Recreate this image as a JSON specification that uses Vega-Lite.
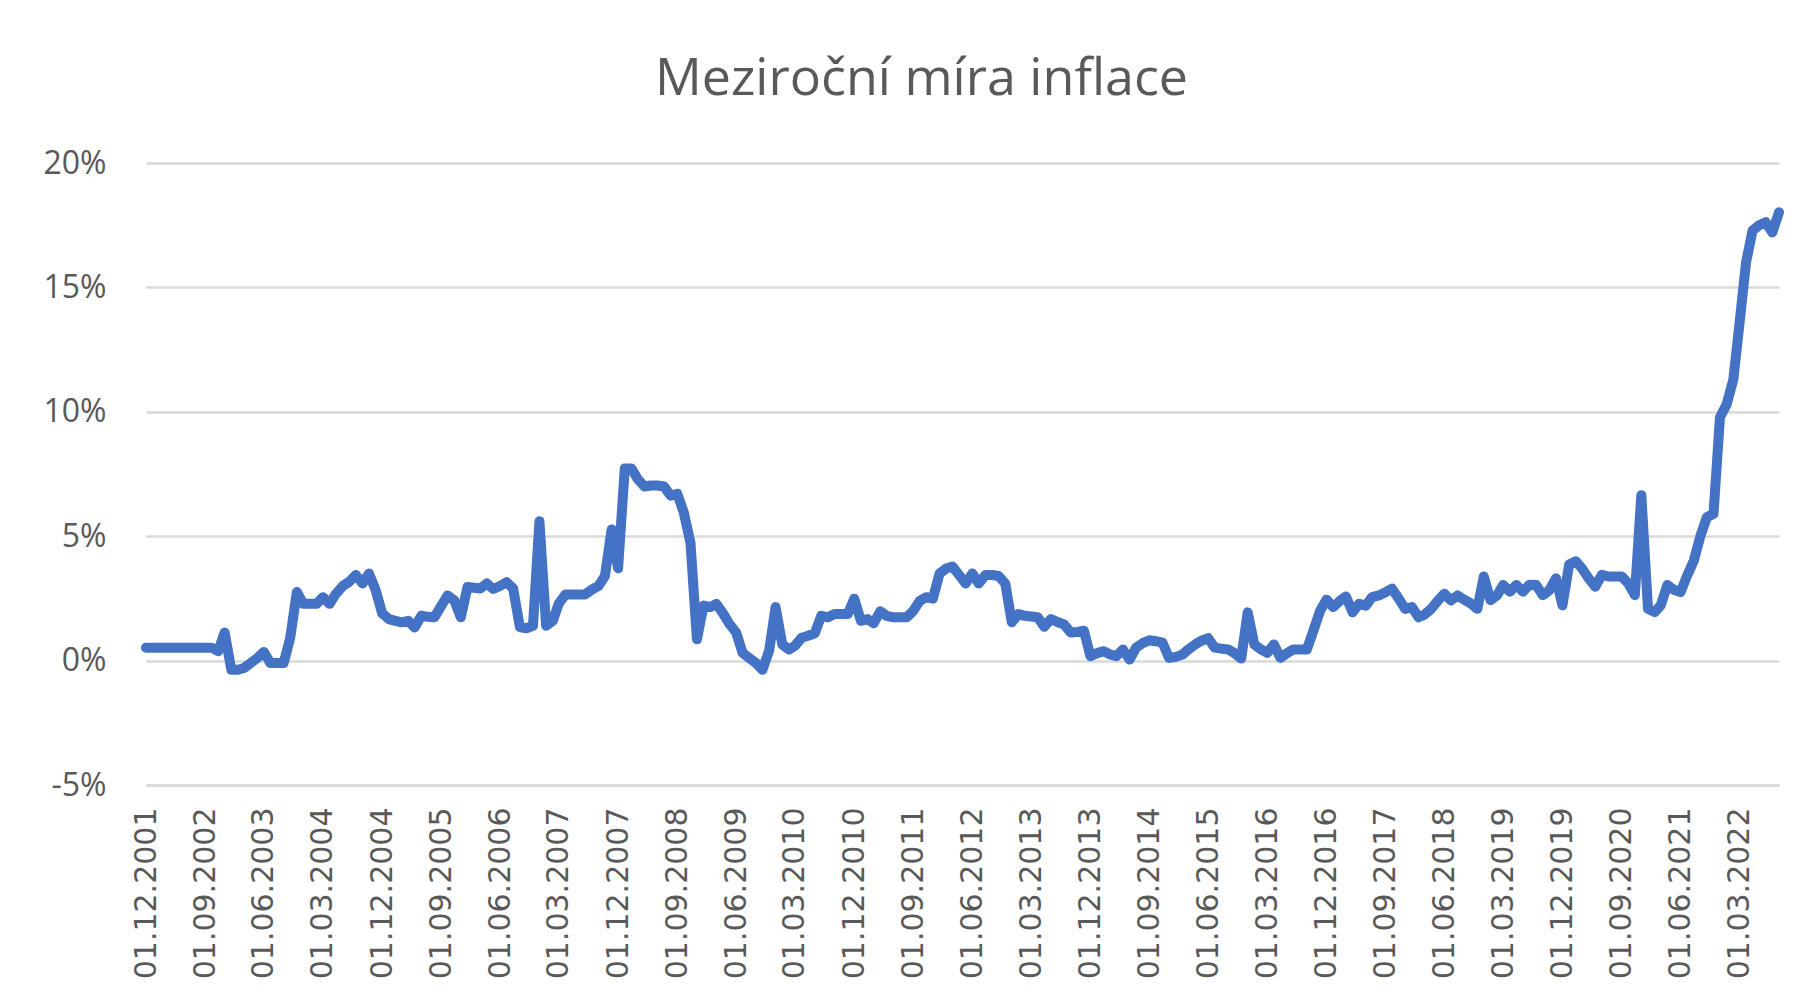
{
  "$schema": "https://vega.github.io/schema/vega-lite/v6.json",
  "width": 1633,
  "height": 622,
  "autosize": "none",
  "padding": {"left": 146, "top": 163, "right": 29, "bottom": 222},
  "background": "white",
  "title": {
    "text": "Meziroční míra inflace",
    "font": "Open Sans",
    "fontSize": 52,
    "fontWeight": "normal",
    "color": "#595959",
    "anchor": "middle",
    "frame": "group",
    "baseline": "alphabetic",
    "offset": 60,
    "dx": -41,
    "dy": 60
  },
  "data": {
    "format": {"parse": {"date": "date:'%Y-%m'"}},
    "values": [
      {"date": "2001-12", "v": 0.52},
      {"date": "2002-01", "v": 0.52}, {"date": "2002-02", "v": 0.52}, {"date": "2002-03", "v": 0.52}, {"date": "2002-04", "v": 0.52}, {"date": "2002-05", "v": 0.52}, {"date": "2002-06", "v": 0.52}, {"date": "2002-07", "v": 0.52}, {"date": "2002-08", "v": 0.52}, {"date": "2002-09", "v": 0.52}, {"date": "2002-10", "v": 0.52}, {"date": "2002-11", "v": 0.38}, {"date": "2002-12", "v": 1.13},
      {"date": "2003-01", "v": -0.37}, {"date": "2003-02", "v": -0.37}, {"date": "2003-03", "v": -0.3}, {"date": "2003-04", "v": -0.1}, {"date": "2003-05", "v": 0.1}, {"date": "2003-06", "v": 0.35}, {"date": "2003-07", "v": -0.1}, {"date": "2003-08", "v": -0.1}, {"date": "2003-09", "v": -0.1}, {"date": "2003-10", "v": 0.9}, {"date": "2003-11", "v": 2.76}, {"date": "2003-12", "v": 2.28},
      {"date": "2004-01", "v": 2.28}, {"date": "2004-02", "v": 2.28}, {"date": "2004-03", "v": 2.55}, {"date": "2004-04", "v": 2.28}, {"date": "2004-05", "v": 2.69}, {"date": "2004-06", "v": 3.0}, {"date": "2004-07", "v": 3.17}, {"date": "2004-08", "v": 3.44}, {"date": "2004-09", "v": 3.1}, {"date": "2004-10", "v": 3.5}, {"date": "2004-11", "v": 2.83}, {"date": "2004-12", "v": 1.9},
      {"date": "2005-01", "v": 1.67}, {"date": "2005-02", "v": 1.6}, {"date": "2005-03", "v": 1.54}, {"date": "2005-04", "v": 1.6}, {"date": "2005-05", "v": 1.33}, {"date": "2005-06", "v": 1.81}, {"date": "2005-07", "v": 1.76}, {"date": "2005-08", "v": 1.74}, {"date": "2005-09", "v": 2.2}, {"date": "2005-10", "v": 2.62}, {"date": "2005-11", "v": 2.42}, {"date": "2005-12", "v": 1.74},
      {"date": "2006-01", "v": 2.96}, {"date": "2006-02", "v": 2.93}, {"date": "2006-03", "v": 2.9}, {"date": "2006-04", "v": 3.1}, {"date": "2006-05", "v": 2.88}, {"date": "2006-06", "v": 3.0}, {"date": "2006-07", "v": 3.15}, {"date": "2006-08", "v": 2.9}, {"date": "2006-09", "v": 1.35}, {"date": "2006-10", "v": 1.3}, {"date": "2006-11", "v": 1.4}, {"date": "2006-12", "v": 5.6},
      {"date": "2007-01", "v": 1.4}, {"date": "2007-02", "v": 1.6}, {"date": "2007-03", "v": 2.3}, {"date": "2007-04", "v": 2.66}, {"date": "2007-05", "v": 2.66}, {"date": "2007-06", "v": 2.66}, {"date": "2007-07", "v": 2.66}, {"date": "2007-08", "v": 2.85}, {"date": "2007-09", "v": 3.0}, {"date": "2007-10", "v": 3.4}, {"date": "2007-11", "v": 5.27}, {"date": "2007-12", "v": 3.71},
      {"date": "2008-01", "v": 7.72}, {"date": "2008-02", "v": 7.72}, {"date": "2008-03", "v": 7.3}, {"date": "2008-04", "v": 7.0}, {"date": "2008-05", "v": 7.04}, {"date": "2008-06", "v": 7.04}, {"date": "2008-07", "v": 7.0}, {"date": "2008-08", "v": 6.63}, {"date": "2008-09", "v": 6.7}, {"date": "2008-10", "v": 5.95}, {"date": "2008-11", "v": 4.73}, {"date": "2008-12", "v": 0.86},
      {"date": "2009-01", "v": 2.21}, {"date": "2009-02", "v": 2.15}, {"date": "2009-03", "v": 2.28}, {"date": "2009-04", "v": 1.9}, {"date": "2009-05", "v": 1.47}, {"date": "2009-06", "v": 1.13}, {"date": "2009-07", "v": 0.31}, {"date": "2009-08", "v": 0.1}, {"date": "2009-09", "v": -0.1}, {"date": "2009-10", "v": -0.37}, {"date": "2009-11", "v": 0.4}, {"date": "2009-12", "v": 2.15},
      {"date": "2010-01", "v": 0.65}, {"date": "2010-02", "v": 0.45}, {"date": "2010-03", "v": 0.6}, {"date": "2010-04", "v": 0.92}, {"date": "2010-05", "v": 1.0}, {"date": "2010-06", "v": 1.1}, {"date": "2010-07", "v": 1.8}, {"date": "2010-08", "v": 1.74}, {"date": "2010-09", "v": 1.87}, {"date": "2010-10", "v": 1.87}, {"date": "2010-11", "v": 1.87}, {"date": "2010-12", "v": 2.49},
      {"date": "2011-01", "v": 1.6}, {"date": "2011-02", "v": 1.67}, {"date": "2011-03", "v": 1.5}, {"date": "2011-04", "v": 1.98}, {"date": "2011-05", "v": 1.8}, {"date": "2011-06", "v": 1.74}, {"date": "2011-07", "v": 1.74}, {"date": "2011-08", "v": 1.74}, {"date": "2011-09", "v": 2.0}, {"date": "2011-10", "v": 2.4}, {"date": "2011-11", "v": 2.55}, {"date": "2011-12", "v": 2.49},
      {"date": "2012-01", "v": 3.5}, {"date": "2012-02", "v": 3.7}, {"date": "2012-03", "v": 3.78}, {"date": "2012-04", "v": 3.44}, {"date": "2012-05", "v": 3.1}, {"date": "2012-06", "v": 3.5}, {"date": "2012-07", "v": 3.1}, {"date": "2012-08", "v": 3.44}, {"date": "2012-09", "v": 3.44}, {"date": "2012-10", "v": 3.4}, {"date": "2012-11", "v": 3.1}, {"date": "2012-12", "v": 1.54},
      {"date": "2013-01", "v": 1.87}, {"date": "2013-02", "v": 1.8}, {"date": "2013-03", "v": 1.77}, {"date": "2013-04", "v": 1.74}, {"date": "2013-05", "v": 1.36}, {"date": "2013-06", "v": 1.67}, {"date": "2013-07", "v": 1.55}, {"date": "2013-08", "v": 1.45}, {"date": "2013-09", "v": 1.13}, {"date": "2013-10", "v": 1.15}, {"date": "2013-11", "v": 1.2}, {"date": "2013-12", "v": 0.18},
      {"date": "2014-01", "v": 0.3}, {"date": "2014-02", "v": 0.38}, {"date": "2014-03", "v": 0.25}, {"date": "2014-04", "v": 0.18}, {"date": "2014-05", "v": 0.45}, {"date": "2014-06", "v": 0.04}, {"date": "2014-07", "v": 0.52}, {"date": "2014-08", "v": 0.7}, {"date": "2014-09", "v": 0.82}, {"date": "2014-10", "v": 0.78}, {"date": "2014-11", "v": 0.72}, {"date": "2014-12", "v": 0.11},
      {"date": "2015-01", "v": 0.15}, {"date": "2015-02", "v": 0.24}, {"date": "2015-03", "v": 0.45}, {"date": "2015-04", "v": 0.65}, {"date": "2015-05", "v": 0.8}, {"date": "2015-06", "v": 0.9}, {"date": "2015-07", "v": 0.52}, {"date": "2015-08", "v": 0.48}, {"date": "2015-09", "v": 0.45}, {"date": "2015-10", "v": 0.3}, {"date": "2015-11", "v": 0.08}, {"date": "2015-12", "v": 1.94},
      {"date": "2016-01", "v": 0.65}, {"date": "2016-02", "v": 0.45}, {"date": "2016-03", "v": 0.31}, {"date": "2016-04", "v": 0.65}, {"date": "2016-05", "v": 0.11}, {"date": "2016-06", "v": 0.3}, {"date": "2016-07", "v": 0.45}, {"date": "2016-08", "v": 0.45}, {"date": "2016-09", "v": 0.45}, {"date": "2016-10", "v": 1.2}, {"date": "2016-11", "v": 2.0}, {"date": "2016-12", "v": 2.45},
      {"date": "2017-01", "v": 2.15}, {"date": "2017-02", "v": 2.4}, {"date": "2017-03", "v": 2.58}, {"date": "2017-04", "v": 1.94}, {"date": "2017-05", "v": 2.28}, {"date": "2017-06", "v": 2.21}, {"date": "2017-07", "v": 2.55}, {"date": "2017-08", "v": 2.62}, {"date": "2017-09", "v": 2.75}, {"date": "2017-10", "v": 2.89}, {"date": "2017-11", "v": 2.49}, {"date": "2017-12", "v": 2.08},
      {"date": "2018-01", "v": 2.15}, {"date": "2018-02", "v": 1.74}, {"date": "2018-03", "v": 1.85}, {"date": "2018-04", "v": 2.08}, {"date": "2018-05", "v": 2.4}, {"date": "2018-06", "v": 2.69}, {"date": "2018-07", "v": 2.42}, {"date": "2018-08", "v": 2.62}, {"date": "2018-09", "v": 2.45}, {"date": "2018-10", "v": 2.3}, {"date": "2018-11", "v": 2.08}, {"date": "2018-12", "v": 3.38},
      {"date": "2019-01", "v": 2.43}, {"date": "2019-02", "v": 2.63}, {"date": "2019-03", "v": 3.04}, {"date": "2019-04", "v": 2.77}, {"date": "2019-05", "v": 3.04}, {"date": "2019-06", "v": 2.77}, {"date": "2019-07", "v": 3.05}, {"date": "2019-08", "v": 3.04}, {"date": "2019-09", "v": 2.63}, {"date": "2019-10", "v": 2.83}, {"date": "2019-11", "v": 3.31}, {"date": "2019-12", "v": 2.22},
      {"date": "2020-01", "v": 3.86}, {"date": "2020-02", "v": 3.99}, {"date": "2020-03", "v": 3.7}, {"date": "2020-04", "v": 3.3}, {"date": "2020-05", "v": 2.97}, {"date": "2020-06", "v": 3.45}, {"date": "2020-07", "v": 3.38}, {"date": "2020-08", "v": 3.38}, {"date": "2020-09", "v": 3.38}, {"date": "2020-10", "v": 3.11}, {"date": "2020-11", "v": 2.63}, {"date": "2020-12", "v": 6.65},
      {"date": "2021-01", "v": 2.08}, {"date": "2021-02", "v": 1.95}, {"date": "2021-03", "v": 2.22}, {"date": "2021-04", "v": 3.04}, {"date": "2021-05", "v": 2.85}, {"date": "2021-06", "v": 2.75}, {"date": "2021-07", "v": 3.4}, {"date": "2021-08", "v": 4.0}, {"date": "2021-09", "v": 5.0}, {"date": "2021-10", "v": 5.76}, {"date": "2021-11", "v": 5.9}, {"date": "2021-12", "v": 9.78},
      {"date": "2022-01", "v": 10.3}, {"date": "2022-02", "v": 11.3}, {"date": "2022-03", "v": 13.5}, {"date": "2022-04", "v": 16.0}, {"date": "2022-05", "v": 17.28}, {"date": "2022-06", "v": 17.5}, {"date": "2022-07", "v": 17.62}, {"date": "2022-08", "v": 17.21}, {"date": "2022-09", "v": 18.02}
    ]
  },
  "mark": {"type": "line", "color": "#4472C4", "strokeWidth": 10, "strokeCap": "round", "strokeJoin": "round"},
  "encoding": {
    "x": {
      "field": "date",
      "type": "temporal",
      "scale": {"domain": [{"year": 2001, "month": 12, "date": 1}, {"year": 2022, "month": 9, "date": 1}], "nice": false},
      "axis": {
        "title": null,
        "format": "%d.%m.%Y",
        "values": [
          {"year": 2001, "month": 12, "date": 1}, {"year": 2002, "month": 9, "date": 1}, {"year": 2003, "month": 6, "date": 1}, {"year": 2004, "month": 3, "date": 1},
          {"year": 2004, "month": 12, "date": 1}, {"year": 2005, "month": 9, "date": 1}, {"year": 2006, "month": 6, "date": 1}, {"year": 2007, "month": 3, "date": 1},
          {"year": 2007, "month": 12, "date": 1}, {"year": 2008, "month": 9, "date": 1}, {"year": 2009, "month": 6, "date": 1}, {"year": 2010, "month": 3, "date": 1},
          {"year": 2010, "month": 12, "date": 1}, {"year": 2011, "month": 9, "date": 1}, {"year": 2012, "month": 6, "date": 1}, {"year": 2013, "month": 3, "date": 1},
          {"year": 2013, "month": 12, "date": 1}, {"year": 2014, "month": 9, "date": 1}, {"year": 2015, "month": 6, "date": 1}, {"year": 2016, "month": 3, "date": 1},
          {"year": 2016, "month": 12, "date": 1}, {"year": 2017, "month": 9, "date": 1}, {"year": 2018, "month": 6, "date": 1}, {"year": 2019, "month": 3, "date": 1},
          {"year": 2019, "month": 12, "date": 1}, {"year": 2020, "month": 9, "date": 1}, {"year": 2021, "month": 6, "date": 1}, {"year": 2022, "month": 3, "date": 1}
        ],
        "labelAngle": -90,
        "labelFont": "DejaVu Sans",
        "labelFontSize": 30,
        "labelColor": "#595959",
        "labelPadding": 22,
        "labelOverlap": false,
        "labelFlush": false,
        "ticks": false,
        "grid": false,
        "domain": true,
        "domainColor": "#d9d9d9",
        "domainWidth": 2.5
      }
    },
    "y": {
      "field": "v",
      "type": "quantitative",
      "scale": {"domain": [-5, 20], "nice": false, "zero": false},
      "axis": {
        "title": null,
        "values": [-5, 0, 5, 10, 15, 20],
        "labelExpr": "datum.value + '%'",
        "labelFont": "Open Sans",
        "labelFontSize": 32,
        "labelColor": "#595959",
        "labelPadding": 40,
        "ticks": false,
        "domain": false,
        "grid": true,
        "gridColor": "#d9d9d9",
        "gridWidth": 2.5
      }
    }
  },
  "config": {"view": {"stroke": null}}
}
